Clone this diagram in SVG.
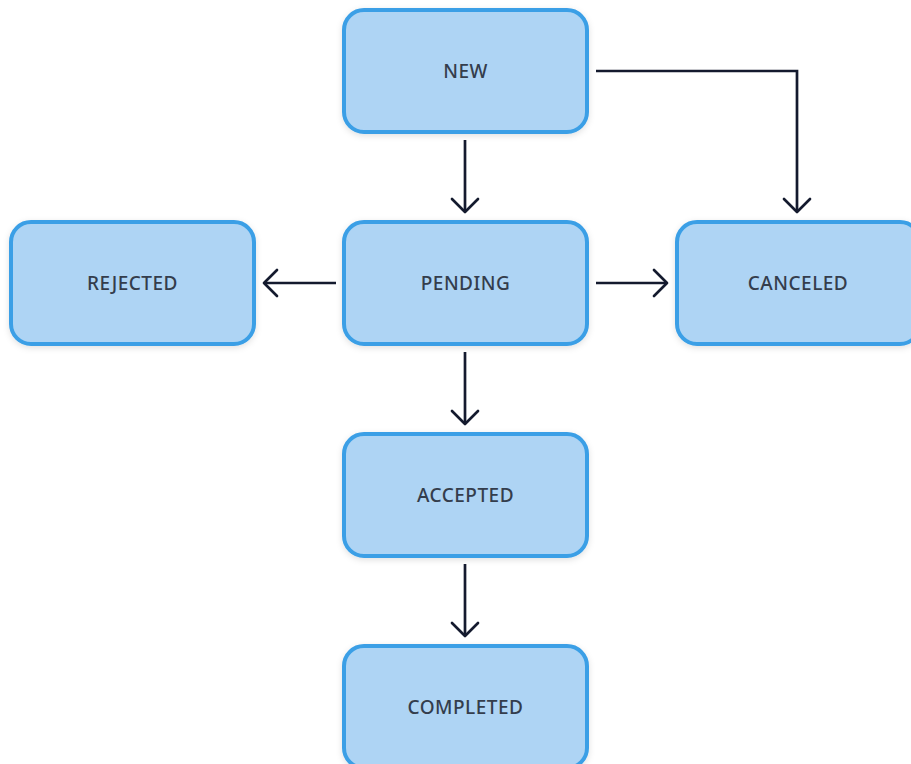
<svg xmlns="http://www.w3.org/2000/svg" width="911" height="764" viewBox="0 0 911 764">
<defs>
<style>
.box{fill:#aed4f4;stroke:#3b9fe6;stroke-width:4;filter:url(#sh)}
.lbl{font-family:"Noto Sans","Open Sans",sans-serif;font-size:19px;font-weight:500;fill:#343d4c;text-anchor:middle;dominant-baseline:central;letter-spacing:0.5px}
.edge{fill:none;stroke:#141a2e;stroke-width:2.7}
.head{fill:none;stroke:#141a2e;stroke-width:2.7;stroke-linecap:round;stroke-linejoin:round}
</style>
<filter id="sh" x="-10%" y="-10%" width="120%" height="130%">
<feDropShadow dx="0" dy="2" stdDeviation="3" flood-color="#000" flood-opacity="0.12"/>
</filter>
</defs>
<rect width="911" height="764" fill="#ffffff"/>
<g id="connectors">
<path class="edge" d="M465 140 V212"/>
<path class="head" d="M452 199 L465 212 L478 199"/>
<path class="edge" d="M596 71 H797 V212"/>
<path class="head" d="M784 199 L797 212 L810 199"/>
<path class="edge" d="M336 283 H264"/>
<path class="head" d="M277 270 L264 283 L277 296"/>
<path class="edge" d="M596 283 H667"/>
<path class="head" d="M654 270 L667 283 L654 296"/>
<path class="edge" d="M465 352 V424"/>
<path class="head" d="M452 411 L465 424 L478 411"/>
<path class="edge" d="M465 564 V636"/>
<path class="head" d="M452 623 L465 636 L478 623"/>
</g>
<g id="new"><rect class="box" x="344" y="10" width="243" height="122" rx="20"/><text class="lbl" x="465.5" y="71">NEW</text></g>
<g id="pending"><rect class="box" x="344" y="222" width="243" height="122" rx="20"/><text class="lbl" x="465.5" y="283">PENDING</text></g>
<g id="rejected"><rect class="box" x="11" y="222" width="243" height="122" rx="20"/><text class="lbl" x="132.5" y="283">REJECTED</text></g>
<g id="canceled"><rect class="box" x="677" y="222" width="243" height="122" rx="20"/><text class="lbl" x="798" y="283">CANCELED</text></g>
<g id="accepted"><rect class="box" x="344" y="434" width="243" height="122" rx="20"/><text class="lbl" x="465.5" y="495">ACCEPTED</text></g>
<g id="completed"><rect class="box" x="344" y="646" width="243" height="122" rx="20"/><text class="lbl" x="465.5" y="707">COMPLETED</text></g>
</svg>
